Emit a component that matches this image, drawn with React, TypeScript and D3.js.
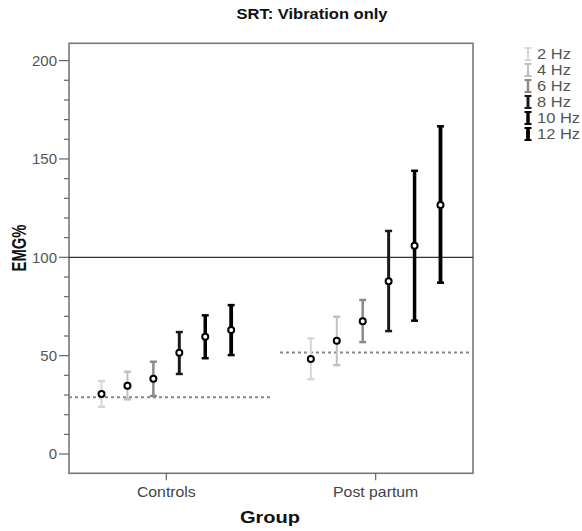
import React from "react";
import * as d3 from "d3";

const groups = ["Controls", "Post partum"];
const freqs = ["2 Hz", "4 Hz", "6 Hz", "8 Hz", "10 Hz", "12 Hz"];
const controlsMean = [30.5, 34.7, 38.3, 51.5, 59.6, 63.0];
const controlsLow = [24.0, 27.8, 29.5, 40.7, 48.7, 50.3];
const controlsHigh = [37.1, 41.8, 46.9, 62.0, 70.5, 75.7];
const postMean = [48.3, 57.6, 67.5, 87.8, 105.9, 126.6];
const postLow = [38.0, 45.2, 56.9, 62.5, 67.8, 87.1];
const postHigh = [58.8, 69.8, 78.3, 113.4, 144.0, 166.6];
const groupRef = [28.8, 51.6];
const yTicksMajor = [0, 50, 100, 150, 200];
const yTicksMinor = d3.range(0, 201, 10);
const refValue = 100;

const colors = ["#d6d6d6", "#bfbfbf", "#8a8a8a", "#1a1a1a", "#000000", "#000000"];
const widths = [2, 2, 2.5, 3, 3.5, 3.8];

const W = 582, H = 531;
const L = 69, R = 473, T = 43.3, B = 473.3;

export default function App() {
  const y = d3.scaleLinear().domain([-9.8, 208.8]).range([B, T]);
  const x = d3.scaleBand().domain(groups).range([L, R]).paddingInner(0.07).paddingOuter(0);
  const bw = x.bandwidth();
  const off = d3.scaleLinear().domain([0, freqs.length - 1]).range([-bw * 0.333, bw * 0.333]);
  const means = [controlsMean, postMean];
  const lows = [controlsLow, postLow];
  const highs = [controlsHigh, postHigh];
  const font = "'Liberation Sans', Arial, Helvetica, sans-serif";
  const cx = (L + R) / 2;

  const dashSpan = (gi: number) =>
    gi === 0 ? [L, cx + 1] : [cx + 9, R];

  return (
    <svg width={W} height={H} style={{ position: "absolute", left: 0, top: 0 }} fontFamily={font}>
      <rect x={0} y={0} width={W} height={H} fill="#fff" />
      {/* Title */}
      <text transform={`translate(312,19) scale(1.18,1)`} textAnchor="middle" fontSize={14} fontWeight="bold" fill="#111">
        SRT: Vibration only
      </text>
      {/* Frame */}
      <rect x={L} y={T} width={R - L} height={B - T} fill="none" stroke="#777" strokeWidth={1.6} />
      {/* Y ticks */}
      {yTicksMinor.map((v) => (
        <line key={"m" + v} x1={L - (yTicksMajor.includes(v) ? 10 : 5)} x2={L} y1={y(v)} y2={y(v)} stroke="#666" strokeWidth={1.2} />
      ))}
      {yTicksMajor.map((v) => (
        <text key={"t" + v} x={57} y={y(v)} dy="0.36em" textAnchor="end" fontSize={15} fill="#555">
          {v}
        </text>
      ))}
      {/* X ticks */}
      {groups.map((g) => (
        <g key={g}>
          <line x1={x(g)! + bw / 2} x2={x(g)! + bw / 2} y1={B} y2={B + 7} stroke="#666" strokeWidth={1.2} />
          <text transform={`translate(${x(g)! + bw / 2},497) scale(1.13,1)`} textAnchor="middle" fontSize={14} fill="#444">
            {g}
          </text>
        </g>
      ))}
      {/* Axis titles */}
      <text transform={`translate(270,523) scale(1.18,1)`} textAnchor="middle" fontSize={17} fontWeight="bold" fill="#111">
        Group
      </text>
      <text transform={`translate(25.5,248) rotate(-90) scale(0.76,1)`} textAnchor="middle" fontSize={19.5} fontWeight="bold" fill="#111">
        EMG%
      </text>
      {/* Reference line 100 */}
      <line x1={L} x2={R} y1={y(refValue)} y2={y(refValue)} stroke="#333" strokeWidth={1.2} />
      {/* Group dashed lines */}
      {groups.map((g, gi) => {
        const [a, b] = dashSpan(gi);
        return (
          <line key={"d" + g} x1={a} x2={b} y1={y(groupRef[gi])} y2={y(groupRef[gi])} stroke="#888" strokeWidth={2} strokeDasharray="3,3" />
        );
      })}
      {/* Error bars */}
      {groups.map((g, gi) =>
        freqs.map((f, fi) => {
          const px = x(g)! + bw / 2 + off(fi);
          const yl = y(lows[gi][fi]);
          const yh = y(highs[gi][fi]);
          const c = colors[fi];
          const sw = widths[fi];
          return (
            <g key={g + f}>
              <line x1={px} x2={px} y1={yl} y2={yh} stroke={c} strokeWidth={sw} />
              <line x1={px - 3.5} x2={px + 3.5} y1={yh} y2={yh} stroke={c} strokeWidth={2.5} />
              <line x1={px - 3.5} x2={px + 3.5} y1={yl} y2={yl} stroke={c} strokeWidth={2.5} />
            </g>
          );
        })
      )}
      {groups.map((g, gi) =>
        freqs.map((f, fi) => {
          const px = x(g)! + bw / 2 + off(fi);
          return <circle key={"c" + g + f} cx={px} cy={y(means[gi][fi])} r={3} fill="#fff" stroke="#000" strokeWidth={2} />;
        })
      )}
      {/* Legend */}
      {freqs.map((f, fi) => {
        const ly = 54 + fi * 16;
        const c = colors[fi];
        return (
          <g key={"l" + f}>
            <line x1={528} x2={528} y1={ly - 6} y2={ly + 6} stroke={c} strokeWidth={widths[fi]} />
            <line x1={524.5} x2={531.5} y1={ly - 6} y2={ly - 6} stroke={c} strokeWidth={2} />
            <line x1={524.5} x2={531.5} y1={ly + 6} y2={ly + 6} stroke={c} strokeWidth={2} />
            <text transform={`translate(537,${ly}) scale(1.18,1)`} dy="0.36em" fontSize={14} fill="#555">
              {f}
            </text>
          </g>
        );
      })}
    </svg>
  );
}
